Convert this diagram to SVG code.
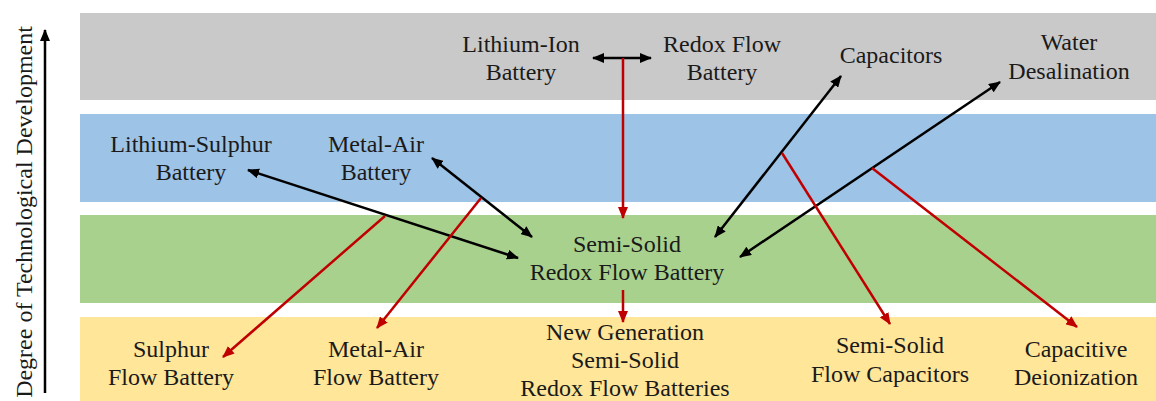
<svg xmlns="http://www.w3.org/2000/svg" width="1156" height="401" viewBox="0 0 1156 401">
<defs>
<style>
text{font-family:"Liberation Serif","Times New Roman",serif;font-size:24px;fill:#1a1a1a;text-anchor:middle}
.blk{stroke:#000;stroke-width:2.5;fill:none}
.red{stroke:#c00000;stroke-width:2.5;fill:none}
</style>
<marker id="ab" markerUnits="userSpaceOnUse" viewBox="0 0 12 10" refX="11" refY="5" markerWidth="12" markerHeight="10" orient="auto-start-reverse"><path d="M0,0L12,5L0,10z" fill="#000"/></marker>
<marker id="ar" markerUnits="userSpaceOnUse" viewBox="0 0 12 10" refX="11" refY="5" markerWidth="12" markerHeight="10" orient="auto"><path d="M0,0L12,5L0,10z" fill="#c00000"/></marker>
</defs>
<rect width="1156" height="401" fill="#fff"/>
<g id="bands">
<rect x="80" y="13" width="1076" height="87" fill="#c9c9c9"/>
<rect x="80" y="114" width="1076" height="88" fill="#9dc3e6"/>
<rect x="80" y="215" width="1076" height="88" fill="#a9d18e"/>
<rect x="80" y="317" width="1076" height="84" fill="#ffe699"/>
</g>
<g id="axis">
<line x1="45" y1="393" x2="45" y2="30" class="blk" stroke-width="2" marker-end="url(#ab)"/>
<text transform="translate(32,212) rotate(-90)">Degree of Technological Development</text>
</g>
<g id="connectors">
<line class="blk" x1="593" y1="58" x2="651" y2="58" marker-start="url(#ab)" marker-end="url(#ab)"/>
<line class="red" x1="623" y1="58" x2="623" y2="218" marker-end="url(#ar)"/>
<line class="red" x1="623" y1="290" x2="623" y2="322" marker-end="url(#ar)"/>
<line class="blk" x1="248" y1="170" x2="518" y2="258" marker-start="url(#ab)" marker-end="url(#ab)"/>
<line class="blk" x1="432" y1="158" x2="532" y2="237" marker-start="url(#ab)" marker-end="url(#ab)"/>
<line class="blk" x1="715" y1="237" x2="841" y2="76" marker-start="url(#ab)" marker-end="url(#ab)"/>
<line class="blk" x1="740" y1="257" x2="1000" y2="82" marker-start="url(#ab)" marker-end="url(#ab)"/>
<line class="red" x1="385" y1="216" x2="223" y2="357" marker-end="url(#ar)"/>
<line class="red" x1="481" y1="198" x2="377" y2="328" marker-end="url(#ar)"/>
<line class="red" x1="782" y1="153" x2="890" y2="324" marker-end="url(#ar)"/>
<line class="red" x1="872" y1="168" x2="1077" y2="327" marker-end="url(#ar)"/>
</g>
<g id="n-liion"><text x="521" y="52">Lithium-Ion</text><text x="521" y="80">Battery</text></g>
<g id="n-redox"><text x="722" y="52">Redox Flow</text><text x="722" y="80">Battery</text></g>
<g id="n-cap"><text x="891" y="63">Capacitors</text></g>
<g id="n-water"><text x="1069" y="50">Water</text><text x="1069" y="79">Desalination</text></g>
<g id="n-lis"><text x="191" y="152">Lithium-Sulphur</text><text x="191" y="180">Battery</text></g>
<g id="n-metalair"><text x="376" y="152">Metal-Air</text><text x="376" y="180">Battery</text></g>
<g id="n-ssrfb"><text x="627" y="252">Semi-Solid</text><text x="627" y="280">Redox Flow Battery</text></g>
<g id="n-sfb"><text x="171" y="357">Sulphur</text><text x="171" y="385">Flow Battery</text></g>
<g id="n-mafb"><text x="376" y="357">Metal-Air</text><text x="376" y="385">Flow Battery</text></g>
<g id="n-newgen"><text x="625" y="340">New Generation</text><text x="625" y="368">Semi-Solid</text><text x="625" y="396">Redox Flow Batteries</text></g>
<g id="n-ssfc"><text x="890" y="353">Semi-Solid</text><text x="890" y="382">Flow Capacitors</text></g>
<g id="n-cdi"><text x="1076" y="357">Capacitive</text><text x="1076" y="385">Deionization</text></g>
</svg>
